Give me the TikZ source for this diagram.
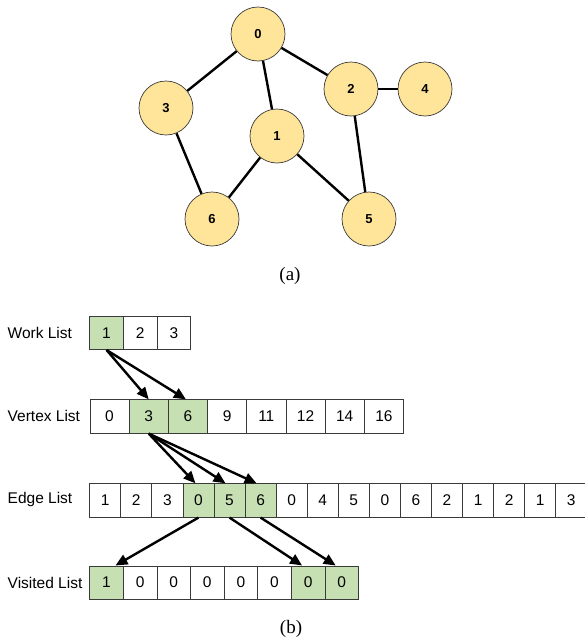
\documentclass[tikz,border=0pt]{standalone}
\usepackage{fontspec}
\setmainfont{Liberation Sans}
\newfontfamily\capfont{Liberation Serif}
\usetikzlibrary{arrows.meta,calc}
\definecolor{vfill}{HTML}{FFE599}
\definecolor{gfill}{HTML}{C6E0B4}
\definecolor{edgegray}{HTML}{3A3A3A}

\begin{document}
\begin{tikzpicture}[x=1pt,y=-1pt,
  vtx/.style={circle,draw=edgegray,line width=0.7pt,fill=vfill,minimum size=54pt,inner sep=0pt,
    font=\bfseries\fontsize{13}{13}\selectfont},
  link/.style={line width=2.4pt},
  cell/.style={draw=edgegray,line width=0.8pt,inner sep=0pt,minimum height=33.5pt,anchor=north west,
    font=\fontsize{15.5}{15.5}\selectfont},
  hit/.style={cell,fill=gfill},
  rowlabel/.style={anchor=west,inner sep=0pt,font=\fontsize{15.5}{15.5}\selectfont},
  ptr/.style={line width=2.4pt,-{Triangle[length=12pt,width=10.5pt]}},
  caption/.style={font=\capfont\fontsize{19}{19}\selectfont}]

\useasboundingbox (0,0) rectangle (585,643);

% ---- graph ----
\node[vtx] (n0) at (258,34)  {0};
\node[vtx] (n3) at (166,108) {3};
\node[vtx] (n2) at (351,89)  {2};
\node[vtx] (n4) at (425,89)  {4};
\node[vtx] (n1) at (277,136) {1};
\node[vtx] (n6) at (212,219) {6};
\node[vtx] (n5) at (369,219) {5};

\draw[link] (n0) -- (n3);
\draw[link] (n0) -- (n1);
\draw[link] (n0) -- (n2);
\draw[link] (n2) -- (n4);
\draw[link] (n2) -- (n5);
\draw[link] (n1) -- (n6);
\draw[link] (n1) -- (n5);
\draw[link] (n3) -- (n6);

\node[caption] (capa) at (290,276) {(a)};

% ---- arrays ----
\node[rowlabel] (lw) at (7.5,332.5) {Work List};
\node[rowlabel] (lv) at (7.5,416)   {Vertex List};
\node[rowlabel] (le) at (7.5,499.5) {Edge List};
\node[rowlabel] (ld) at (7.5,582.5) {Visited List};

\foreach \v/\s [count=\i from 0] in {1/hit,2/cell,3/cell}
  \node[\s,minimum width=33.7pt] (w\i) at ({89.3+33.7*\i},315.7) {\v};

\foreach \v/\s [count=\i from 0] in {0/cell,3/hit,6/hit,9/cell,11/cell,12/cell,14/cell,16/cell}
  \node[\s,minimum width=39.2pt] (v\i) at ({89.5+39.2*\i},399.3) {\v};

% the edge list runs past the right margin
\foreach \v/\s [count=\i from 0] in {1/cell,2/cell,3/cell,0/hit,5/hit,6/hit,0/cell,4/cell,
    5/cell,0/cell,6/cell,2/cell,1/cell,2/cell,1/cell,3/cell}
  \node[\s,minimum width=31.07pt] (e\i) at ({89.3+31.07*\i},483.3) {\v};

\foreach \v/\s [count=\i from 0] in {1/hit,0/cell,0/cell,0/cell,0/cell,0/cell,0/hit,0/hit}
  \node[\s,minimum width=33.6pt] (d\i) at ({89.3+33.6*\i},565.5) {\v};

% ---- pointers ----
\draw[ptr] (w0.south) -- (v1.north);
\draw[ptr] (w0.south) -- ($(v2.north)+(-2,0)$);

\draw[ptr] (v1.south) -- ($(e3.north)+(-3,0)$);
\draw[ptr] (v1.south) -- ($(e4.north)+(-4,0)$);
\draw[ptr] (v1.south) -- ($(e5.north)+(-4,0)$);

\draw[ptr] (e3.south) -- ($(d0.north)+(9,0)$);
\draw[ptr] (e4.south) -- ($(d6.north)+(-6,0)$);
\draw[ptr] (e5.south) -- ($(d7.north)+(-6,0)$);

\node[caption] (capb) at (291,629) {(b)};
\end{tikzpicture}
\end{document}
